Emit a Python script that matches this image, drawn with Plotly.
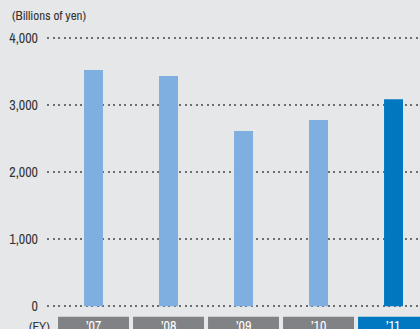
import plotly.graph_objects as go

# Net sales by fiscal year (billions of yen)
years = ["’07", "’08", "’09", "’10", "’11"]
sales = [3520, 3430, 2610, 2775, 3085]
bar_colors = ["#7fafe0", "#7fafe0", "#7fafe0", "#7fafe0", "#0078c1"]
box_colors = ["#808285", "#808285", "#808285", "#808285", "#0078c1"]
y_ticks = [0, 1000, 2000, 3000, 4000]
y_tick_text = ["0", "1,000", "2,000", "3,000", "4,000"]

FONT = "Archivo Narrow, Liberation Sans Narrow, DejaVu Sans Condensed, sans-serif"
BG = "#e6e7e9"

x_pos = list(range(len(years)))

fig = go.Figure(
    go.Bar(
        x=x_pos,
        y=sales,
        marker=dict(color=bar_colors, line=dict(width=0)),
        width=0.253,
        hoverinfo="skip",
    )
)

# Fiscal-year label boxes under the axis
for i, (yr, col) in enumerate(zip(years, box_colors)):
    fig.add_shape(
        type="rect",
        xref="x", yref="paper",
        x0=i - 0.473, x1=i + 0.473,
        y0=-0.032, y1=-0.2,
        fillcolor=col, line=dict(width=0), layer="above",
    )
    fig.add_annotation(
        x=i, xref="x", y=-0.026, yref="paper",
        text=yr, showarrow=False, xanchor="center", yanchor="top",
        font=dict(family=FONT, size=14, color="#ffffff"),
    )

fig.add_annotation(
    x=0.0134, xref="paper", y=-0.028, yref="paper",
    text="(FY)", showarrow=False, xanchor="right", yanchor="top",
    font=dict(family=FONT, size=13, color="#333333"),
)
fig.add_annotation(
    x=-0.1, xref="paper", y=1.075, yref="paper",
    text="(Billions of yen)", showarrow=False, xanchor="left", yanchor="middle",
    font=dict(family=FONT, size=13, color="#333333"),
)

fig.update_layout(
    width=420, height=329,
    margin=dict(l=47, r=0, t=36, b=21, pad=0),
    paper_bgcolor=BG, plot_bgcolor=BG,
    showlegend=False,
    xaxis=dict(
        range=[-0.62, 4.353], showgrid=False, zeroline=False,
        showticklabels=False, ticks="", fixedrange=True,
    ),
    yaxis=dict(
        range=[-25, 4025], tickvals=y_ticks, ticktext=y_tick_text,
        showgrid=True, gridcolor="#6d6e71", gridwidth=2, griddash="2px,3.5px",
        zeroline=False, ticks="", ticklabelstandoff=8,
        tickfont=dict(family=FONT, size=14, color="#333333"),
        fixedrange=True,
    ),
)

fig.write_html("out.html")
